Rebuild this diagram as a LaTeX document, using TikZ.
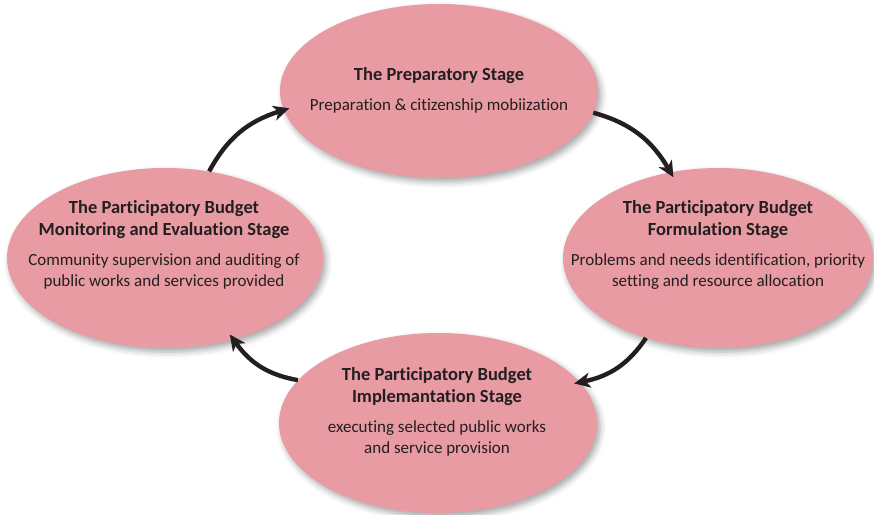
\documentclass[tikz,border=0pt]{standalone}
\usepackage{fontspec}
\setmainfont{Carlito}[Ligatures=NoCommon]
\usetikzlibrary{shapes.geometric,arrows.meta,shadows.blur}
\definecolor{stagepink}{HTML}{E89BA3}
\definecolor{ink}{HTML}{231F20}
\newcommand{\ttl}[1]{{\fontsize{18.5}{21.5}\selectfont\bfseries #1}}
\begin{document}
\begin{tikzpicture}[x=1pt,y=1pt,
  stage/.style={ellipse, fill=stagepink, inner sep=0pt,
    blur shadow={shadow xshift=3pt, shadow yshift=-4pt, shadow blur radius=6pt, shadow opacity=35}},
  stagetext/.style={align=center, text=ink, inner sep=0pt, font=\fontsize{17}{21.5}\selectfont},
  arr/.style={line width=4.4pt, draw=ink, -{Stealth[length=16pt,width=15pt,inset=4.5pt]}, bend left=22, shorten >=-6pt}]
\useasboundingbox (0,0) rectangle (874,-514);
\node[stage, minimum width=318pt, minimum height=174pt] (prep) at (439,-91) {};
\node[stage, minimum width=310pt, minimum height=180pt] (form) at (718,-258) {};
\node[stage, minimum width=316pt, minimum height=180pt] (mon) at (165,-258) {};
\node[stage, minimum width=318pt, minimum height=180pt] (impl) at (438,-423) {};
\draw[arr] (prep.-8) to (form.119);
\draw[arr] (form.228) to (impl.16);
\draw[arr] (impl.163) to (mon.-50);
\draw[arr] (mon.63) to (prep.187);
\node[stagetext] (prepT) at (439,-90) {\ttl{The Preparatory Stage}\\[8.5pt]Preparation \& citizenship mobiization};
\node[stagetext] (formT) at (718,-245) {\ttl{The Participatory Budget}\\\ttl{Formulation Stage}\\[8.5pt]Problems and needs identification, priority\\setting and resource allocation};
\node[stagetext] (monT) at (164,-245) {\ttl{The Participatory Budget}\\\ttl{Monitoring and Evaluation Stage}\\[8.5pt]Community supervision and auditing of\\public works and services provided};
\node[stagetext] (implT) at (437,-412) {\ttl{The Participatory Budget}\\\ttl{Implemantation Stage}\\[8.5pt]executing selected public works\\and service provision};
\end{tikzpicture}
\end{document}
